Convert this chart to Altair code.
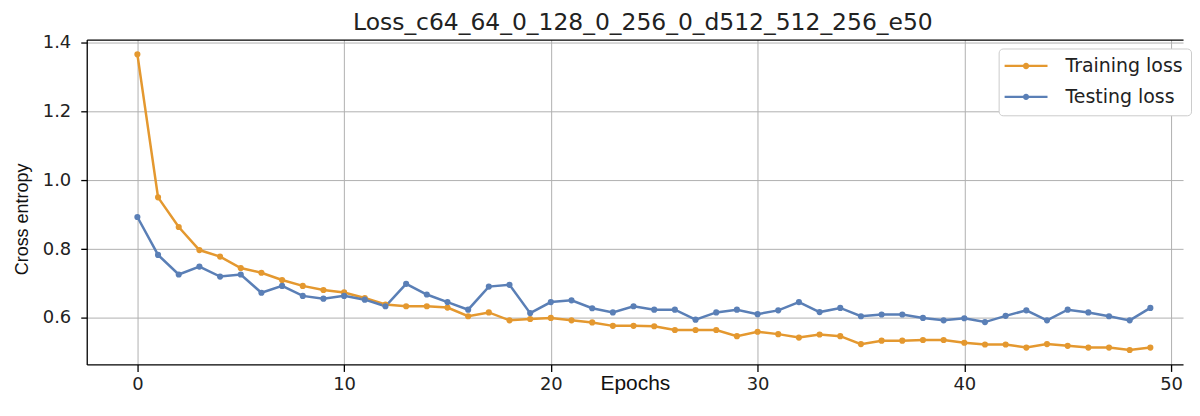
import altair as alt
import pandas as pd

epochs = list(range(50))
train_loss = [1.365, 0.950, 0.864, 0.797, 0.778, 0.745, 0.731, 0.710, 0.693, 0.681,
              0.674, 0.658, 0.639, 0.634, 0.634, 0.630, 0.605, 0.616, 0.593, 0.597,
              0.600, 0.593, 0.587, 0.577, 0.577, 0.576, 0.565, 0.565, 0.565, 0.547,
              0.560, 0.553, 0.543, 0.552, 0.547, 0.524, 0.534, 0.534, 0.536, 0.536,
              0.528, 0.523, 0.523, 0.514, 0.524, 0.519, 0.514, 0.514, 0.507, 0.514]
test_loss = [0.893, 0.783, 0.726, 0.749, 0.720, 0.726, 0.673, 0.693, 0.664, 0.656,
             0.664, 0.653, 0.634, 0.699, 0.668, 0.646, 0.624, 0.691, 0.696, 0.614,
             0.646, 0.651, 0.628, 0.616, 0.634, 0.624, 0.624, 0.595, 0.616, 0.624,
             0.611, 0.622, 0.646, 0.617, 0.629, 0.605, 0.610, 0.610, 0.600, 0.593,
             0.599, 0.588, 0.606, 0.622, 0.593, 0.624, 0.616, 0.605, 0.593, 0.629]
series_names = ["Training loss", "Testing loss"]
series_colors = ["#E4982F", "#5A7FB6"]
x_ticks = [0, 10, 20, 30, 40, 50]
y_ticks = [0.6, 0.8, 1.0, 1.2, 1.4]
title_text = "Loss_c64_64_0_128_0_256_0_d512_512_256_e50"

rows = []
for i, e in enumerate(epochs):
    rows.append({"epoch": e, "loss": train_loss[i], "series": series_names[0]})
for i, e in enumerate(epochs):
    rows.append({"epoch": e, "loss": test_loss[i], "series": series_names[1]})
df = pd.DataFrame(rows)

xscale = alt.Scale(domain=[-2.45, 50.58], nice=False, zero=False)
yscale = alt.Scale(domain=[0.465, 1.408], nice=False, zero=False)
cscale = alt.Scale(domain=series_names, range=series_colors)

legend_path = ("M-2.69,-0.14H2.69V0.14H-2.69Z "
               "M0.4,0A0.4,0.4,0,1,1,-0.4,0A0.4,0.4,0,1,1,0.4,0Z")

base = alt.Chart(df)

x_bottom = alt.X("epoch:Q", scale=xscale, title="Epochs",
                 axis=alt.Axis(values=x_ticks, format="d", grid=True, gridColor="#b0b0b0",
                               gridWidth=1, domainColor="#000", domainWidth=1.3,
                               tickColor="#000", tickWidth=1.3, tickSize=7,
                               labelFont="DejaVu Sans", labelFontSize=18, labelColor="#222",
                               labelPadding=4, titleFont="Liberation Sans", titleFontSize=21,
                               titleFontWeight="normal", titleColor="#111", titlePadding=-21))
y_axis = alt.Y("loss:Q", scale=yscale, title="Cross entropy",
               axis=alt.Axis(values=y_ticks, format=".1f", grid=True, gridColor="#b0b0b0",
                             gridWidth=1, domainColor="#000", domainWidth=1.3,
                             tickColor="#000", tickWidth=1.3, tickSize=6,
                             labelFont="DejaVu Sans", labelFontSize=18, labelColor="#222",
                             labelPadding=10, titleFont="Liberation Sans", titleFontSize=18,
                             titleFontWeight="normal", titleColor="#111", titlePadding=11,
                             titleY=180))

line_layers = []
for name, col in zip(series_names, series_colors):
    line_layers.append(
        base.transform_filter(alt.datum.series == name)
        .mark_line(strokeWidth=2.5, color=col)
        .encode(x=x_bottom, y=y_axis, order="epoch:Q")
    )

points = base.mark_circle(size=38, opacity=1).encode(
    x=alt.X("epoch:Q", scale=xscale),
    y=alt.Y("loss:Q", scale=yscale),
    fill=alt.Fill("series:N", scale=cscale,
                  legend=alt.Legend(orient="none", legendX=915, legendY=9,
                                    symbolType=legend_path, symbolSize=256,
                                    symbolStrokeWidth=0, symbolOpacity=1,
                                    symbolOffset=10, labelOffset=30,
                                    labelFont="DejaVu Sans", labelFontSize=19,
                                    labelColor="#222", rowPadding=11, padding=8,
                                    fillColor="white", strokeColor="#cccccc",
                                    cornerRadius=4, title="")),
)

top_spine = base.mark_circle(opacity=0).encode(
    x=alt.X("epoch:Q", scale=xscale,
            axis=alt.Axis(orient="top", labels=False, ticks=False, grid=False, title="",
                          domainColor="#000", domainWidth=1.3)),
    y=alt.Y("loss:Q", scale=yscale),
)

inner = alt.layer(*line_layers, points)

chart = alt.layer(inner, top_spine).resolve_axis(x="independent").properties(
    width=1100,
    height=326,
    title=alt.Title(title_text, font="DejaVu Sans", fontSize=23.5, fontWeight="normal",
                    color="#222", offset=-1, dx=8),
    padding={"left": 5, "top": 2, "right": 0, "bottom": 0},
).configure_view(stroke=None)

chart.save("out.html", embed_options={"renderer": "svg", "actions": False})
